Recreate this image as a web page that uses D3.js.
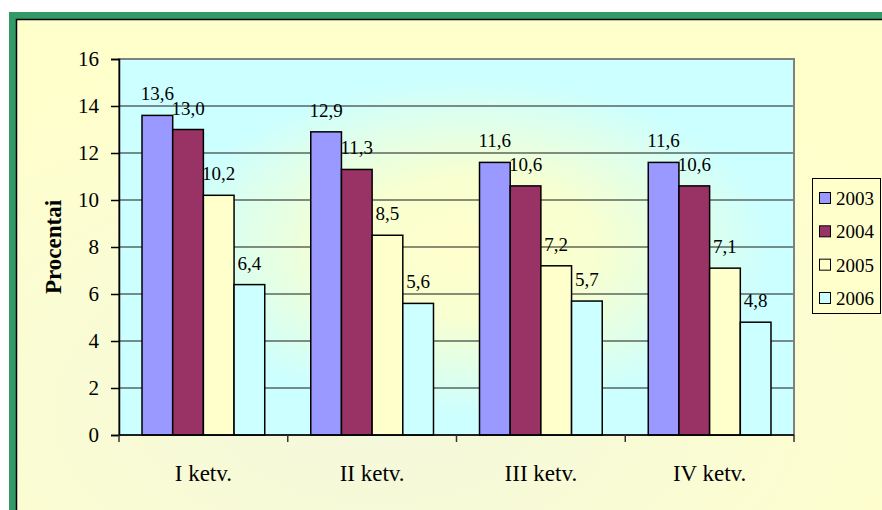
<!DOCTYPE html>
<html>
<head>
<meta charset="utf-8">
<script src="https://cdn.jsdelivr.net/npm/d3@7"></script>
<style>
  html, body { margin: 0; padding: 0; background: #fff; }
  svg { display: block; }
  text { font-family: "Liberation Serif", "Times New Roman", Times, serif; fill: #000; }
</style>
</head>
<body>
<svg width="882" height="510"></svg>
<script>
var svg = d3.select("svg");

// data
var categories = ["I ketv.", "II ketv.", "III ketv.", "IV ketv."];
var years = ["2003", "2004", "2005", "2006"];
var v2003 = [13.6, 12.9, 11.6, 11.6];
var v2004 = [13.0, 11.3, 10.6, 10.6];
var v2005 = [10.2, 8.5, 7.2, 7.1];
var v2006 = [6.4, 5.6, 5.7, 4.8];
var yTicks = [0, 2, 4, 6, 8, 10, 12, 14, 16];
var yTitle = "Procentai";

var seriesValues = [v2003, v2004, v2005, v2006];
var barColors = ["#9999FF", "#993366", "#FFFFCC", "#CCFFFF"];

var serif = "'Liberation Serif', 'Times New Roman', Times, serif";
var plotLeft = 119, plotRight = 794, plotTop = 59, plotBottom = 435;

var fmt = d3.formatLocale({decimal: ",", thousands: " ", grouping: [3], currency: ["", ""]}).format(".1f");

// gradients
var defs = svg.append("defs");
var bgGrad = defs.append("radialGradient")
  .attr("id", "bgGrad")
  .attr("cx", 0.4).attr("cy", 0.75).attr("r", 0.7);
bgGrad.append("stop").attr("offset", 0).attr("stop-color", "#F4F8DC");
bgGrad.append("stop").attr("offset", 1).attr("stop-color", "#FFFFCC");

var plotGrad = defs.append("radialGradient")
  .attr("id", "plotGrad")
  .attr("cx", 0.52).attr("cy", 0.5).attr("r", 0.62);
plotGrad.append("stop").attr("offset", 0).attr("stop-color", "#FFFFCC");
plotGrad.append("stop").attr("offset", 0.3).attr("stop-color", "#F8FFD0");
plotGrad.append("stop").attr("offset", 0.72).attr("stop-color", "#CCFFFF");
plotGrad.append("stop").attr("offset", 1).attr("stop-color", "#CCFFFF");

// frame
svg.append("rect")
  .attr("x", 9).attr("y", 12)
  .attr("width", 900).attr("height", 520)
  .attr("fill", "#339966");
svg.append("rect")
  .attr("x", 16.5).attr("y", 19.5)
  .attr("width", 900).attr("height", 520)
  .attr("fill", "url(#bgGrad)")
  .attr("stroke", "#000").attr("stroke-width", 1.5);

// scales
var x0 = d3.scaleBand().domain(categories).range([plotLeft, plotRight]).padding(0);
var x1 = d3.scaleBand().domain(years).range([0, x0.bandwidth()])
  .paddingInner(0).paddingOuter(0.75);
var y = d3.scaleLinear().domain([0, 16]).range([plotBottom, plotTop]);

// plot area
svg.append("rect")
  .attr("x", plotLeft).attr("y", plotTop)
  .attr("width", plotRight - plotLeft).attr("height", plotBottom - plotTop)
  .attr("fill", "url(#plotGrad)");

svg.append("g")
  .selectAll("line")
  .data(yTicks.filter(function(d) { return d > 0 && d < 16; }))
  .enter().append("line")
  .attr("x1", plotLeft).attr("x2", plotRight)
  .attr("y1", function(d) { return y(d); })
  .attr("y2", function(d) { return y(d); })
  .attr("stroke", "#1a1a1a").attr("stroke-width", 1.2);

svg.append("rect")
  .attr("x", plotLeft).attr("y", plotTop)
  .attr("width", plotRight - plotLeft).attr("height", plotBottom - plotTop)
  .attr("fill", "none")
  .attr("stroke", "#808080").attr("stroke-width", 2);

// bars
var groups = svg.append("g").selectAll("g")
  .data(categories)
  .enter().append("g")
  .attr("transform", function(d) { return "translate(" + x0(d) + ",0)"; });

var barData = function(c, ci) {
  return years.map(function(yr, si) { return {year: yr, value: seriesValues[si][ci], color: barColors[si]}; });
};

groups.selectAll("rect")
  .data(barData)
  .enter().append("rect")
  .attr("x", function(d) { return x1(d.year); })
  .attr("y", function(d) { return y(d.value); })
  .attr("width", x1.bandwidth())
  .attr("height", function(d) { return plotBottom - y(d.value); })
  .attr("fill", function(d) { return d.color; })
  .attr("stroke", "#000").attr("stroke-width", 1.5);

groups.selectAll("text")
  .data(barData)
  .enter().append("text")
  .attr("x", function(d) { return x1(d.year) + x1.bandwidth() / 2; })
  .attr("y", function(d) { return y(d.value) - 15; })
  .attr("text-anchor", "middle")
  .style("font-size", "19px")
  .text(function(d) { return fmt(d.value); });

// y axis
var yAxis = svg.append("g")
  .attr("transform", "translate(" + plotLeft + ",0)")
  .call(d3.axisLeft(y).tickValues(yTicks).tickSize(8).tickPadding(12).tickFormat(d3.format("d")));
yAxis.select(".domain").attr("stroke", "#000").attr("stroke-width", 1.5);
yAxis.selectAll(".tick line").attr("stroke", "#000").attr("stroke-width", 1.5);
yAxis.selectAll("text").style("font-size", "21px").style("font-family", serif);

// x axis
var xAxis = svg.append("g")
  .attr("transform", "translate(0," + plotBottom + ")")
  .call(d3.axisBottom(x0).tickSize(0).tickPadding(30));
xAxis.select(".domain").remove();
xAxis.selectAll("text").style("font-size", "23px").style("font-family", serif);

svg.append("line")
  .attr("x1", plotLeft).attr("x2", plotRight)
  .attr("y1", plotBottom).attr("y2", plotBottom)
  .attr("stroke", "#000").attr("stroke-width", 1.5);

var bounds = categories.map(function(c) { return x0(c); }).concat([x0.range()[1]]);
svg.append("g").selectAll("line")
  .data(bounds)
  .enter().append("line")
  .attr("x1", function(d) { return d; }).attr("x2", function(d) { return d; })
  .attr("y1", plotBottom).attr("y2", plotBottom + 7)
  .attr("stroke", "#333").attr("stroke-width", 1.5);

// y title
svg.append("text")
  .attr("transform", "translate(61," + ((plotTop + plotBottom) / 2) + ") rotate(-90)")
  .attr("text-anchor", "middle")
  .style("font-size", "23px")
  .style("font-weight", "bold")
  .text(yTitle);

// legend
var legY = d3.scalePoint().domain(years).range([198, 298]);
svg.append("rect")
  .attr("x", 812.5).attr("y", 178.5)
  .attr("width", 68).attr("height", 135)
  .attr("fill", "#FFFFCC")
  .attr("stroke", "#000").attr("stroke-width", 1);

var leg = svg.append("g").selectAll("g")
  .data(years)
  .enter().append("g")
  .attr("transform", function(d) { return "translate(0," + legY(d) + ")"; });
leg.append("rect")
  .attr("x", 819.5).attr("y", -5.5)
  .attr("width", 11).attr("height", 11)
  .attr("fill", function(d, i) { return barColors[i]; })
  .attr("stroke", "#000").attr("stroke-width", 1);
leg.append("text")
  .attr("x", 836).attr("y", 7)
  .style("font-size", "19px")
  .text(function(d) { return d; });
</script>
</body>
</html>
